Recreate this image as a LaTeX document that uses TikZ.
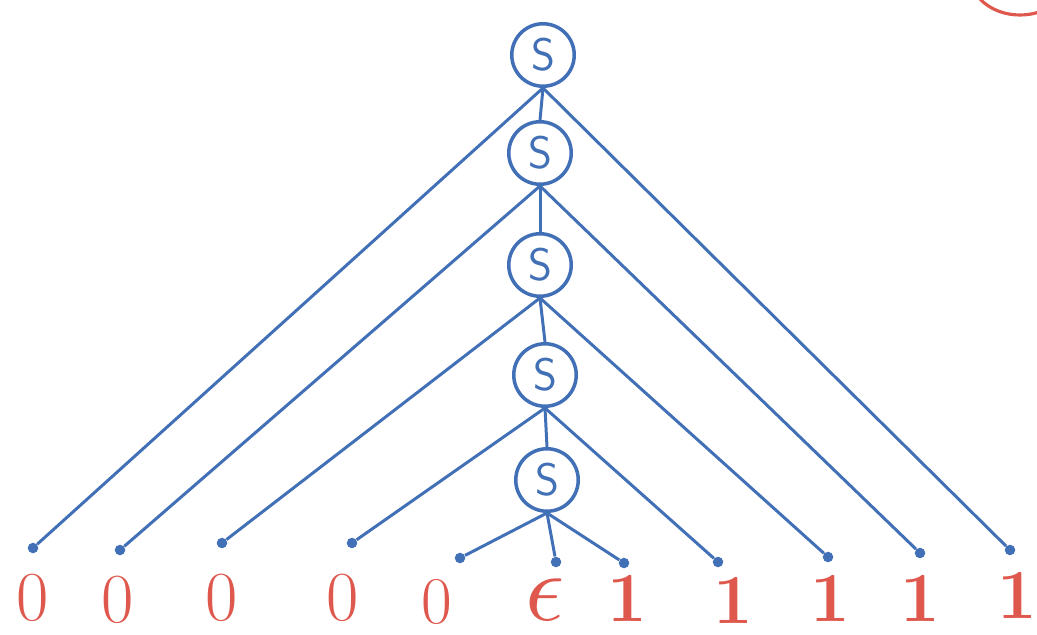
\documentclass[tikz,border=0pt]{standalone}
\usepackage{graphicx}
\usepackage{xcolor}
\definecolor{pen}{RGB}{66,112,182}
\definecolor{ink}{RGB}{222,88,78}
\tikzset{
  svar/.style={draw=pen,line width=2pt,circle,minimum size=1.25cm,inner sep=0pt,text=pen,font=\sffamily\fontsize{26}{30}\selectfont},
  leaf/.style={text=ink,font=\fontsize{40}{48}\selectfont,inner sep=0pt},
  one/.style={leaf,font=\bfseries\fontsize{40}{48}\selectfont},
  dot/.style={circle,fill=pen,inner sep=0pt,minimum size=6pt},
  br/.style={pen,line width=1.7pt},
}
\begin{document}
\begin{tikzpicture}[x=0.02cm,y=-0.02cm]
\useasboundingbox (0,0) rectangle (1037,635);
% S nodes
\node[svar](s1) at (543,55){S};
\node[svar](s2) at (540,153){S};
\node[svar](s3) at (540,265){S};
\node[svar](s4) at (545,375){S};
\node[svar](s5) at (547,480){S};
% branch ends
\foreach \n/\x/\y in {1/33/548,2/120/550,3/222/543,4/352/543,5/460/558,6/556/562,7/624/563,8/718/562,9/828/557,10/920/553,11/1010/550}
  \node[dot](d\n) at (\x,\y){};
% leaves
\node[leaf](l1) at (33,598){0};
\node[leaf](l2) at (118,600){0};
\node[leaf](l3) at (222,598){0};
\node[leaf](l4) at (343,598){0};
\node[leaf,font=\fontsize{38}{44}\selectfont](l5) at (437,602){0};
\node[leaf,font=\fontsize{10}{12}\selectfont](l6) at (545,600){\scalebox{5.5}{$\epsilon$}};
\node[one](l7) at (627,598){1};
\node[one](l8) at (733,600){1};
\node[one](l9) at (830,598){1};
\node[one](l10) at (920,598){1};
\node[one](l11) at (1017,595){1};
% edges
\draw[br](s1.south)--(s2.north);
\draw[br](s2.south)--(s3.north);
\draw[br](s3.south)--(s4.north);
\draw[br](s4.south)--(s5.north);
\draw[br](s1.south)--(d1);
\draw[br](s1.south)--(d11);
\draw[br](s2.south)--(d2);
\draw[br](s2.south)--(d10);
\draw[br](s3.south)--(d3);
\draw[br](s3.south)--(d9);
\draw[br](s4.south)--(d4);
\draw[br](s4.south)--(d8);
\draw[br](s5.south)--(d5);
\draw[br](s5.south)--(d6);
\draw[br](s5.south)--(d7);
% red mark top right
\begin{scope}
\clip (0,0) rectangle (1037,635);
\draw[ink,line width=1.8pt](1020,-25) ellipse [x radius=50,y radius=40];
\end{scope}
\end{tikzpicture}
\end{document}
